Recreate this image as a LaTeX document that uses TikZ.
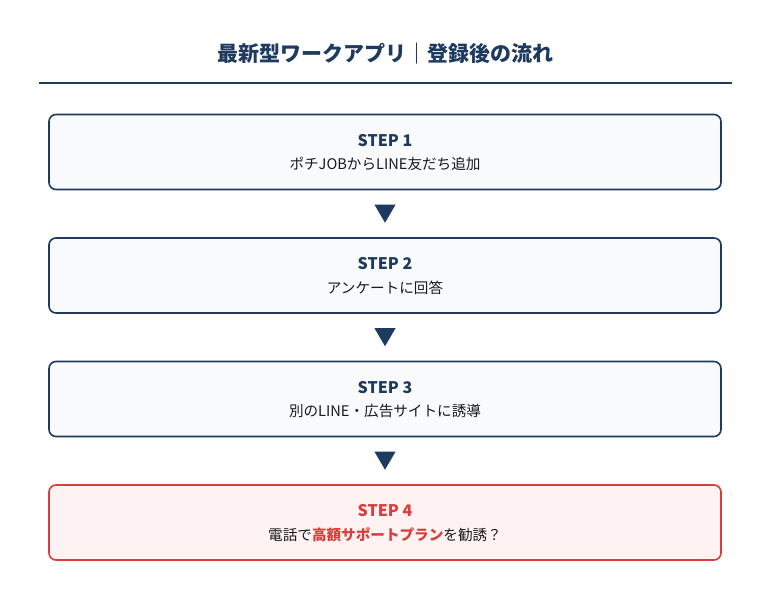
\documentclass[tikz,border=0pt]{standalone}
\usepackage{fontspec}
\setmainfont{Noto Sans CJK JP}
\usetikzlibrary{positioning}
\definecolor{navy}{HTML}{1E3A5F}
\definecolor{boxfill}{HTML}{F8FAFC}
\definecolor{alert}{HTML}{DC3C3C}
\definecolor{alertfill}{HTML}{FEF2F2}
\definecolor{bodytxt}{HTML}{1A1A1A}
\tikzset{
  x=1pt,y=1pt,
  stepbox/.style={draw=navy,line width=1.6pt,fill=boxfill,rounded corners=7pt,minimum width=672pt,minimum height=75pt,inner sep=0pt},
  alertbox/.style={stepbox,draw=alert,fill=alertfill},
  steplabel/.style={font=\bfseries\fontsize{16}{19}\selectfont,text=navy},
  bodylabel/.style={font=\fontsize{14.6}{17}\selectfont,text=bodytxt},
  arrowtri/.style={fill=navy}
}
\begin{document}
\begin{tikzpicture}
\useasboundingbox (0,0) rectangle (771,600);
\fill[white] (0,0) rectangle (771,600);
\node[font=\bfseries\fontsize{21}{25}\selectfont,text=navy] (title) at (385.5,546) {最新型ワークアプリ｜登録後の流れ};
\coordinate (rl) at (39,517);
\coordinate (rr) at (732,517);
\draw[navy,line width=2.4pt] (rl) -- (rr);

\node[stepbox] (b1) at (385,448) {};
\node[stepbox] (b2) at (385,324.5) {};
\node[stepbox] (b3) at (385,201) {};
\node[alertbox] (b4) at (385,77.5) {};

\node[steplabel] (s1) at (385,459.5) {STEP 1};
\node[bodylabel] (t1) at (385,436) {ポチJOBからLINE友だち追加};
\node[steplabel] (s2) at (385,336) {STEP 2};
\node[bodylabel] (t2) at (385,312.5) {アンケートに回答};
\node[steplabel] (s3) at (385,212.5) {STEP 3};
\node[bodylabel] (t3) at (385,189) {別のLINE・広告サイトに誘導};
\node[steplabel,text=alert] (s4) at (385,89) {STEP 4};
\node[bodylabel] (t4) at (385,65.5) {電話で{\bfseries\color{alert}高額サポートプラン}を勧誘？};

\foreach \a/\b in {b1/b2,b2/b3,b3/b4}{
  \path (\a.south) -- (\b.north) coordinate[pos=0.5] (m\a);
  \fill[arrowtri] ([shift={(-10.5,9)}]m\a) -- ([shift={(10.5,9)}]m\a) -- ([shift={(0,-9)}]m\a) -- cycle;
}
\end{tikzpicture}
\end{document}
